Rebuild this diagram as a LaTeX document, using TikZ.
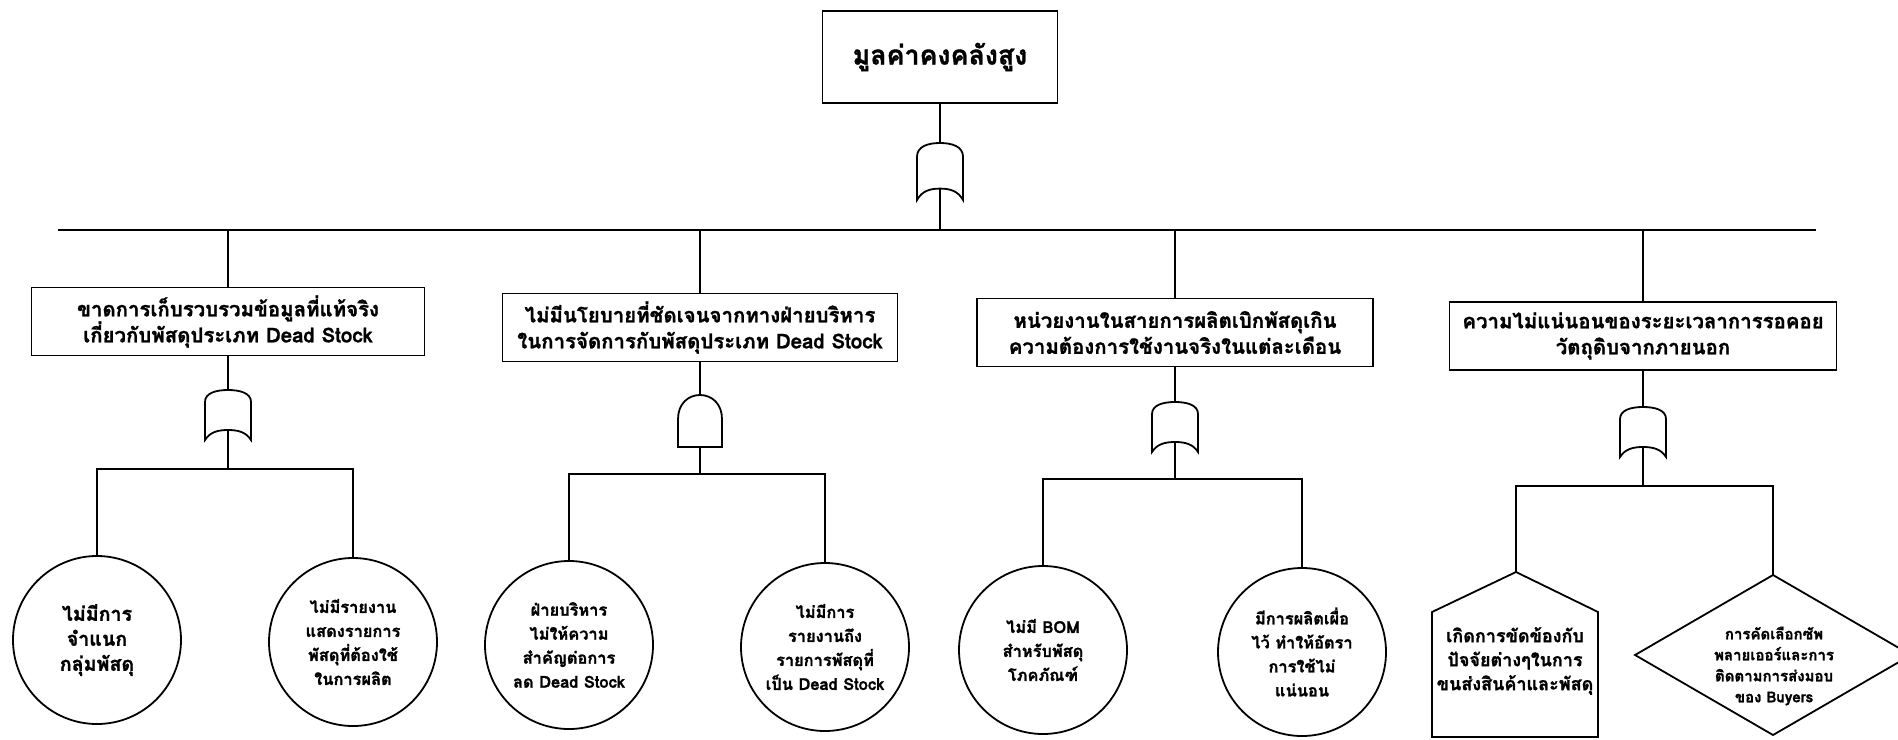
\documentclass[tikz,border=0pt]{standalone}
\usepackage{fontspec}
\setmainfont[Script=Thai,BoldFeatures={FakeBold=1.3}]{Loma}
\begin{document}
\begin{tikzpicture}[x=0.5pt,y=-0.5pt,line width=0.9pt,
  topbox/.style={draw,align=center,font=\fontsize{13.4}{16}\selectfont\bfseries,minimum width=117.5pt,minimum height=46pt,inner sep=0pt},
  midbox/.style={draw,align=center,font=\fontsize{10.2}{13}\selectfont\bfseries,minimum height=34pt,inner sep=0pt},
  leaf/.style={draw,circle,align=center,minimum size=84pt,inner sep=0pt,font=\fontsize{8.2}{12}\selectfont\bfseries},
  leafbig/.style={leaf,font=\fontsize{9.8}{12.5}\selectfont\bfseries},
  plain/.style={align=center,inner sep=0pt,font=\fontsize{9}{11.5}\selectfont\bfseries},
  orgate/.pic={
    \draw (-23,50) -- (-23,12) .. controls (-23,3) and (-12,0) .. (0,0)
      .. controls (12,0) and (23,3) .. (23,12) -- (23,50)
      .. controls (18,42) and (10,40) .. (0,40)
      .. controls (-10,40) and (-18,42) .. (-23,50) -- cycle;
    \coordinate (-top) at (0,0);
    \coordinate (-bot) at (0,40);
  },
  andgate/.pic={
    \draw (-22,52) -- (-22,24) .. controls (-22,9) and (-12,0) .. (0,0)
      .. controls (12,0) and (22,9) .. (22,24) -- (22,52) -- cycle;
    \coordinate (-top) at (0,0);
    \coordinate (-bot) at (0,52);
  }]
\useasboundingbox (0,0) rectangle (1898,739);
\clip (0,0) rectangle (1898,739);

% top event
\node[topbox] (top) at (940,57) {มูลค่าคงคลังสูง};
\pic[yscale=1.14] (g0) at (940,143) {orgate};
\coordinate (m0L) at (58,230);
\coordinate (m0R) at (1816,230);
\draw (top.south) -- (g0-top);
\draw (g0-bot) -- (g0-bot |- m0L);
\draw (m0L) -- (m0R);

% intermediate events
\node[midbox,minimum width=196.5pt] (b1) at (228,321.5) {ขาดการเก็บรวบรวมข้อมูลที่แท้จริง\\เกี่ยวกับพัสดุประเภท Dead Stock};
\node[midbox,minimum width=197.5pt] (b2) at (700,327.5) {ไม่มีนโยบายที่ชัดเจนจากทางฝ่ายบริหาร\\ในการจัดการกับพัสดุประเภท Dead Stock};
\node[midbox,minimum width=198pt] (b3) at (1175,332.5) {หน่วยงานในสายการผลิตเบิกพัสดุเกิน\\ความต้องการใช้งานจริงในแต่ละเดือน};
\node[midbox,minimum width=193.5pt] (b4) at (1643,336) {ความไม่แน่นอนของระยะเวลาการรอคอย\\วัตถุดิบจากภายนอก};
\foreach \b in {b1,b2,b3,b4} \draw (\b.north) -- (\b.north |- m0L);

% gates
\pic (g1) at (228,390) {orgate};
\pic (g2) at (700,395) {andgate};
\pic (g3) at (1175,402) {orgate};
\pic (g4) at (1643,407) {orgate};
\draw (b1.south) -- (g1-top);
\draw (b2.south) -- (g2-top);
\draw (b3.south) -- (g3-top);
\draw (b4.south) -- (g4-top);
\coordinate (j1) at (228,469);
\coordinate (j2) at (700,474);
\coordinate (j3) at (1175,479);
\coordinate (j4) at (1643,486);
\draw (g1-bot) -- (j1);
\draw (g2-bot) -- (j2);
\draw (g3-bot) -- (j3);
\draw (g4-bot) -- (j4);

% basic events
\node[leafbig] (c1) at (97,640) {ไม่มีการ\\จำแนก\\กลุ่มพัสดุ};
\node[leaf] (c2) at (353,642) {ไม่มีรายงาน\\แสดงรายการ\\พัสดุที่ต้องใช้\\ในการผลิต};
\node[leaf] (c3) at (569,645) {ฝ่ายบริหาร\\ไม่ให้ความ\\สำคัญต่อการ\\ลด Dead Stock};
\node[leaf] (c4) at (825,647) {ไม่มีการ\\รายงานถึง\\รายการพัสดุที่\\เป็น Dead Stock};
\node[leaf] (c5) at (1043,650) {ไม่มี BOM\\สำหรับพัสดุ\\โภคภัณฑ์};
\node[leaf] (c6) at (1302,652) {มีการผลิตเผื่อ\\ไว้ ทำให้อัตรา\\การใช้ไม่\\แน่นอน};

% house event
\coordinate (htop) at (1516,572);
\draw (htop) -- (1598,612) -- (1598,737) -- (1432,737) -- (1432,612) -- cycle;
\node[plain,font=\fontsize{9}{12}\selectfont\bfseries] (h) at (1515,661) {เกิดการขัดข้องกับ\\ปัจจัยต่างๆในการ\\ขนส่งสินค้าและพัสดุ};

% diamond event
\coordinate (dtop) at (1773,575);
\draw (dtop) -- (1911,655) -- (1773,735) -- (1635,655) -- cycle;
\node[plain,font=\fontsize{7.5}{10.5}\selectfont\bfseries] (d) at (1774,666) {การคัดเลือกซัพ\\พลายเออร์และการ\\ติดตามการส่งมอบ\\ของ Buyers};

% branch bars
\draw (c1.north) |- (j1);
\draw (c2.north) |- (j1);
\draw (c3.north) |- (j2);
\draw (c4.north) |- (j2);
\draw (c5.north) |- (j3);
\draw (c6.north) |- (j3);
\draw (htop) |- (j4);
\draw (dtop) |- (j4);
\end{tikzpicture}
\end{document}
